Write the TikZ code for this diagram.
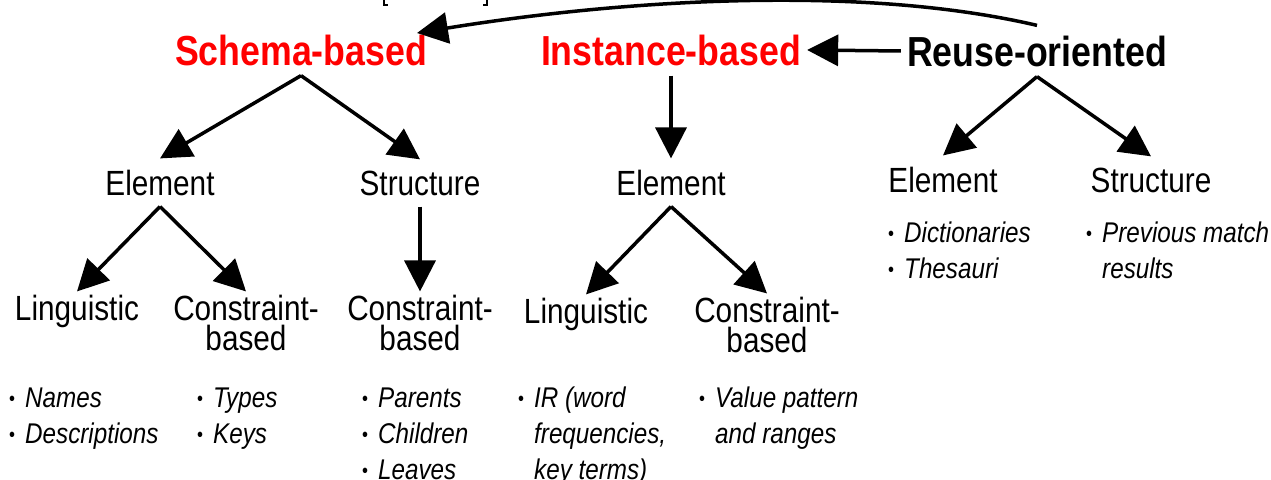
\documentclass[tikz,border=0pt]{standalone}
\usepackage{fontspec}
\setmainfont{Liberation Sans}[FakeStretch=0.85]
\usetikzlibrary{arrows.meta}

\newcommand{\bul}{\makebox[16pt][l]{\upshape\raisebox{1.5pt}{\fontsize{20}{20}\selectfont\textbullet}}}

\begin{document}
\begin{tikzpicture}[x=1pt, y=-1pt,
	title/.style={font=\fontsize{42}{42}\selectfont\bfseries, inner xsep=6pt, inner ysep=10pt, anchor=base},
	kind/.style={font=\fontsize{35}{30}\selectfont, inner xsep=0pt, inner ysep=11pt, anchor=base},
	leaf/.style={font=\fontsize{35}{30}\selectfont, align=center, inner xsep=0pt, inner ysep=3pt, anchor=base},
	items/.style={font=\fontsize{28.5}{36}\selectfont\itshape, align=left, inner sep=0pt, anchor=base west},
	arr/.style={line width=3.5pt, -{Triangle[length=31pt,width=31pt]}}]

	\useasboundingbox (0, 0) rectangle (1271, 479);

	% bracket cut off at the top
	\draw [line width=1.5pt] (384, 0) |- (388, 5);
	\draw [line width=1.5pt] (487, 0) |- (483, 5);

	% matchers
	\node [title, red] (schema) at (301, 65) {Schema-based};
	\node [title, red] (inst) at (671, 65) {Instance-based};
	\node [title] (reuse) at (1037, 66) {Reuse-oriented};

	\node [kind] (sel) at (160, 195) {Element};
	\node [kind] (sst) at (420, 195) {Structure};
	\node [kind] (iel) at (671, 195) {Element};
	\node [kind] (rel) at (943, 192) {Element};
	\node [kind] (rst) at (1151, 192) {Structure};

	% base = last line
	\node [leaf] (sling) at (77, 320) {Linguistic};
	\node [leaf] (scons) at (246, 350) {Constraint-\\based};
	\node [leaf] (stcons) at (420, 350) {Constraint-\\based};
	\node [leaf] (iling) at (586, 323) {Linguistic};
	\node [leaf] (icons) at (767, 352) {Constraint-\\based};

	\coordinate (schematip) at (417, 33);

	\draw [arr] (reuse.west) -- (inst.east);
	\draw [arr] (reuse.north) .. controls (860, -16) and (620, 0) .. (schematip);

	\draw [arr] (schema.south) -- (sel.north);
	\draw [arr] (schema.south) -- (sst.north);
	\draw [arr] (inst.south) -- (iel.north);
	\draw [arr] (reuse.south) -- (rel.north);
	\draw [arr] (reuse.south) -- (rst.north);

	\draw [arr] (sel.south) -- (sling.north);
	\draw [arr] (sel.south) -- (scons.north);
	\draw [arr] (sst.south) -- (stcons.north);
	\draw [arr] (iel.south) -- (iling.north);
	\draw [arr] (iel.south) -- (icons.north);

	% examples
	\node [items] (ex1) at (9, 443) {\bul Names\\\bul Descriptions};
	\node [items] (ex2) at (197, 443) {\bul Types\\\bul Keys};
	\node [items] (ex3) at (362, 479) {\bul Parents\\\bul Children\\\bul Leaves};
	\node [items] (ex4) at (518, 479) {\bul IR (word\\\hphantom{\bul}frequencies,\\\hphantom{\bul}key terms)};
	\node [items] (ex5) at (699, 443) {\bul Value pattern\\\hphantom{\bul}and ranges};
	\node [items] (ex6) at (888, 278) {\bul Dictionaries\\\bul Thesauri};
	\node [items] (ex7) at (1086, 278) {\bul Previous match\\\hphantom{\bul}results};

\end{tikzpicture}
\end{document}
